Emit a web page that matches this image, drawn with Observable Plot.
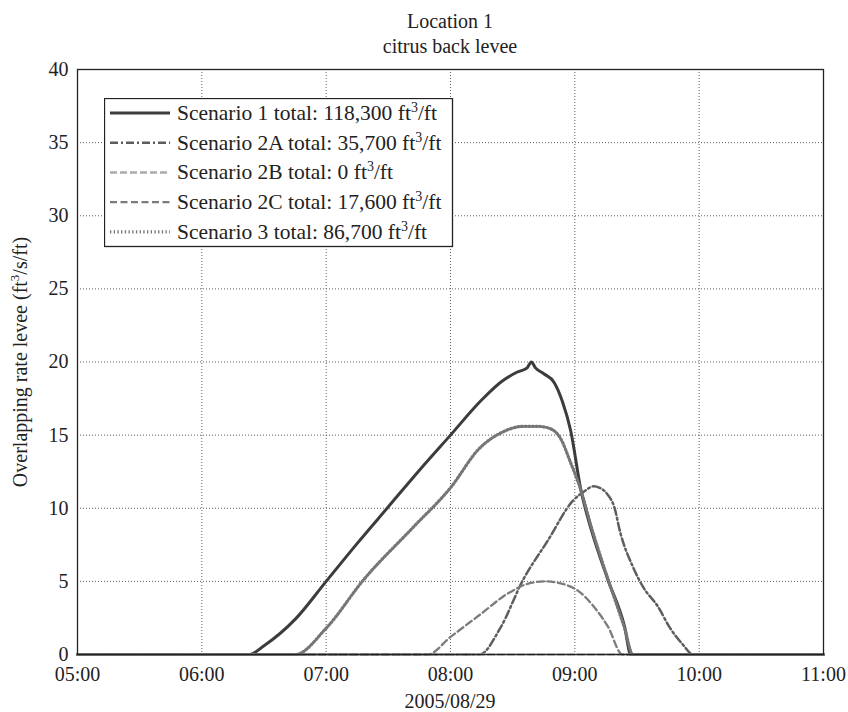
<!DOCTYPE html>
<html><head><meta charset="utf-8">
<script src="https://cdn.jsdelivr.net/npm/d3@7"></script>
<script src="https://cdn.jsdelivr.net/npm/@observablehq/plot@0.6"></script>
<style>
body{margin:0;background:#fff;}
#wrap{position:relative;width:848px;height:712px;font-family:"Liberation Serif",serif;}
.title{position:absolute;left:77px;width:746px;text-align:center;font-size:20px;color:#222;line-height:25px;}
#legend{position:absolute;left:104px;top:98px;}
</style></head><body><div id="wrap"></div>
<script>
const day = "2005-08-29";
const titleLines = ["Location 1", "citrus back levee"];
const xLabel = "2005/08/29";
const yLabelParts = ["Overlapping rate levee (ft", "3", "/s/ft)"];
const xTicks = ["05:00","06:00","07:00","08:00","09:00","10:00","11:00"];
const yTicks = [0,5,10,15,20,25,30,35,40];

const seriesNames = ["Scenario 1","Scenario 2A","Scenario 2B","Scenario 2C","Scenario 3"];
const seriesTotals = ["118,300","35,700","0","17,600","86,700"];

const s1Times  = ["05:00","06:23","06:30","06:45","07:00","07:15","07:30","07:45","08:00","08:15","08:25","08:32","08:37","08:39","08:41","08:45","08:50","08:54","08:58","09:03","09:08","09:16","09:24","09:27","11:00"];
const s1Values = [0,0,0.6,2.4,5,7.6,10.1,12.6,15,17.4,18.7,19.3,19.6,20,19.6,19.2,18.6,17.3,15.3,11.2,8.5,5.1,1.9,0,0];

const s2ATimes  = ["05:00","08:14","08:24","08:35","08:47","08:59","09:05","09:09","09:12","09:16","09:19","09:22","09:28","09:33","09:40","09:46","09:52","09:57","11:00"];
const s2AValues = [0,0,1.8,5.1,7.8,10.5,11.2,11.5,11.4,10.9,10.1,8.3,6,4.6,3.3,1.8,0.7,0,0];

const s2BTimes  = ["05:00","11:00"];
const s2BValues = [0,0];

const s2CTimes  = ["05:00","07:49","08:00","08:14","08:28","08:39","08:46","08:52","09:03","09:09","09:16","09:23","11:00"];
const s2CValues = [0,0,1.2,2.7,4.2,4.9,5,4.9,4.2,3.3,1.9,0,0];

const s3Times  = ["05:00","06:45","07:00","07:18","07:42","08:00","08:14","08:25","08:35","08:42","08:47","08:53","08:58","09:03","09:08","09:14","09:19","09:24","09:28","11:00"];
const s3Values = [0,0,1.8,5.1,8.7,11.4,14.1,15.2,15.6,15.6,15.5,14.8,13.1,11.2,8.7,6,3.9,1.8,0,0];

const parse = d3.utcParse("%Y-%m-%d %H:%M");
const toDate = t => parse(day + " " + t);

const styles = [
  {stroke:"#3c3c3c", strokeWidth:3, dash:null},
  {stroke:"#5e5e5e", strokeWidth:2.5, dash:"8,3,2,3"},
  {stroke:"#ababab", strokeWidth:2.5, dash:"7,3"},
  {stroke:"#7c7c7c", strokeWidth:2.3, dash:"7,3.5"},
  {stroke:"#767676", strokeWidth:3.2, dash:"1.3,2.4"}
];
const raw = [[s1Times,s1Values],[s2ATimes,s2AValues],[s2BTimes,s2BValues],[s2CTimes,s2CValues],[s3Times,s3Values]];
const series = raw.map(([ts, vs]) => ts.map((t,i) => ({t: toDate(t), v: vs[i]})));

const xTickDates = xTicks.map(toDate);

const lineMarks = series.map((data, i) => Plot.line(data, {
  x: "t", y: "v", curve: "monotone-x",
  stroke: styles[i].stroke, strokeWidth: styles[i].strokeWidth,
  strokeDasharray: styles[i].dash || undefined
}));

const chart = Plot.plot({
  width: 848, height: 712,
  marginLeft: 77, marginRight: 25, marginTop: 69, marginBottom: 58,
  style: {fontFamily: "Liberation Serif, serif", fontSize: "20px", color: "#222", background: "white", overflow: "visible"},
  x: {type: "utc", domain: [toDate(xTicks[0]), toDate(xTicks[xTicks.length-1])], ticks: xTickDates, tickFormat: d3.utcFormat("%H:%M"), label: null, tickSize: 0, tickPadding: 12},
  y: {domain: [0, 40], ticks: yTicks, label: null, tickSize: 0, tickPadding: 9},
  marks: [
    Plot.gridX(xTickDates, {stroke: "#444", strokeOpacity: 0.85, strokeDasharray: "1,2"}),
    Plot.gridY(yTicks, {stroke: "#444", strokeOpacity: 0.85, strokeDasharray: "1,2"}),
    ...lineMarks,
    Plot.frame({stroke: "#222", strokeWidth: 1.3})
  ]
});

const wrap = document.getElementById("wrap");
wrap.appendChild(chart);

// titles
titleLines.forEach((t, i) => {
  const d = document.createElement("div");
  d.className = "title";
  d.style.top = (9 + i*25) + "px";
  d.textContent = t;
  wrap.appendChild(d);
});

const svg = d3.select(chart);
svg.append("text").attr("x", 450).attr("y", 708).attr("text-anchor", "middle")
  .attr("font-size", 20).attr("fill", "#222").text(xLabel);
const yl = svg.append("text").attr("transform", "translate(27,362) rotate(-90)")
  .attr("text-anchor", "middle").attr("font-size", 20).attr("fill", "#222");
yl.append("tspan").text(yLabelParts[0]);
yl.append("tspan").attr("font-size", 13).attr("dy", -8).text(yLabelParts[1]);
yl.append("tspan").attr("dy", 8).text(yLabelParts[2]);

// legend
const lg = d3.select(wrap).append("svg").attr("id", "legend").attr("width", 350).attr("height", 150)
  .style("font-family", "Liberation Serif, serif");
lg.append("rect").attr("x", 0.5).attr("y", 0.5).attr("width", 348).attr("height", 148)
  .attr("fill", "white").attr("stroke", "#222").attr("stroke-width", 1.3);
seriesNames.forEach((name, i) => {
  const y = 15 + i * 29.7;
  lg.append("line").attr("x1", 6).attr("x2", 66).attr("y1", y).attr("y2", y)
    .attr("stroke", styles[i].stroke).attr("stroke-width", styles[i].strokeWidth)
    .attr("stroke-dasharray", styles[i].dash);
  const t = lg.append("text").attr("x", 73).attr("y", y + 7).attr("font-size", 21.5).attr("fill", "#222");
  t.append("tspan").text(`${name} total: ${seriesTotals[i]} ft`);
  t.append("tspan").attr("font-size", 14).attr("dy", -8).text("3");
  t.append("tspan").attr("dy", 8).text("/ft");
});
</script></body></html>
